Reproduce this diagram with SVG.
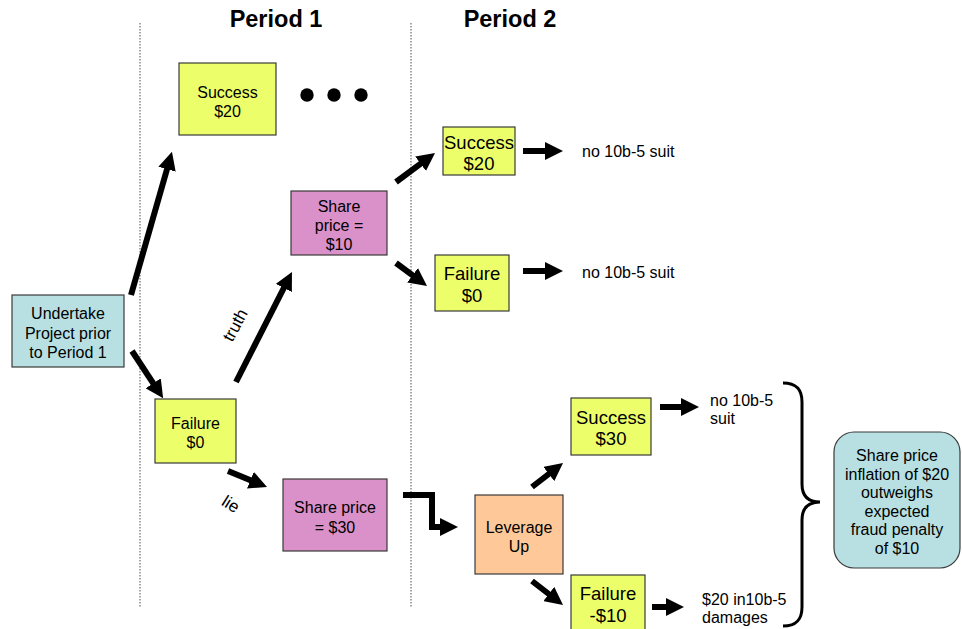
<svg xmlns="http://www.w3.org/2000/svg" width="962" height="629" viewBox="0 0 962 629">
<style>
text{font-family:"Liberation Sans",Arial,sans-serif;fill:#000}
.t{font-size:16px;text-anchor:middle}
.big{font-size:18.5px;text-anchor:middle}
.lbl{font-size:16px}
.rl{font-size:17px;text-anchor:middle}
.title{font-size:23.5px;font-weight:bold;text-anchor:middle}
.box{stroke:#3a3a3a;stroke-width:1.2}
.y{fill:#ECFF6A}
.p{fill:#DA90C8}
.c{fill:#B8E0E2}
.o{fill:#FFC898}
.div{stroke:#8a8a8a;stroke-width:1.5;stroke-dasharray:1.5 1.5;fill:none}
.a{stroke:#000;stroke-width:6;fill:none;marker-end:url(#ah)}
</style>
<defs>
<marker id="ah" markerUnits="userSpaceOnUse" markerWidth="18" markerHeight="18" refX="9" refY="9" orient="auto" viewBox="0 0 18 18">
<path d="M0,0 L18,9 L0,18 Z" fill="#000"/>
</marker>
</defs>
<rect width="962" height="629" fill="#fff"/>
<g id="dividers">
<line class="div" x1="140" y1="23" x2="140" y2="607"/>
<line class="div" x1="411" y1="23" x2="411" y2="607"/>
</g>
<g id="titles">
<text class="title" x="276" y="27">Period 1</text>
<text class="title" x="510" y="27">Period 2</text>
</g>
<g id="connectors">
<line class="a" x1="131" y1="295" x2="169.5" y2="160.5"/>
<line class="a" x1="132" y1="351" x2="158.2" y2="390.8"/>
<line class="a" x1="236" y1="382" x2="287.9" y2="280"/>
<line class="a" x1="228" y1="471" x2="258.7" y2="483.6"/>
<line class="a" x1="396" y1="182" x2="427.8" y2="158.4"/>
<line class="a" x1="523" y1="151" x2="554" y2="151"/>
<line class="a" x1="396" y1="263" x2="419.8" y2="280.6"/>
<line class="a" x1="523" y1="271" x2="554" y2="271"/>
<path class="a" d="M403,495 H432 V527 H449"/>
<line class="a" x1="532" y1="487" x2="555.9" y2="468.5"/>
<line class="a" x1="660" y1="407" x2="690" y2="407"/>
<line class="a" x1="532" y1="581" x2="555.9" y2="599.5"/>
<line class="a" x1="652" y1="607" x2="675" y2="607"/>
</g>
<g id="edge-labels">
<text class="rl" transform="translate(235,325) rotate(-62)" x="0" y="6">truth</text>
<text class="rl" transform="translate(231,504) rotate(32)" x="0" y="6">lie</text>
</g>
<g id="undertake">
<rect class="box c" x="12" y="295" width="112" height="72"/>
<text class="t" x="68" y="318.5">Undertake</text>
<text class="t" x="68" y="338.5">Project prior</text>
<text class="t" x="68" y="357.5">to Period 1</text>
</g>
<g id="p1-success">
<rect class="box y" x="179" y="63" width="97" height="72"/>
<text class="t" x="227.5" y="97.5">Success</text>
<text class="t" x="227.5" y="116.5">$20</text>
</g>
<g id="ellipsis">
<circle cx="307" cy="95" r="6.7"/>
<circle cx="334" cy="95" r="6.7"/>
<circle cx="361" cy="95" r="6.7"/>
</g>
<g id="p1-failure">
<rect class="box y" x="155" y="399" width="81" height="64"/>
<text class="t" x="195.5" y="428.5">Failure</text>
<text class="t" x="195.5" y="447.5">$0</text>
</g>
<g id="share10">
<rect class="box p" x="291" y="191" width="96" height="64"/>
<text class="t" x="339" y="211.5">Share</text>
<text class="t" x="339" y="230.5">price =</text>
<text class="t" x="339" y="249.5">$10</text>
</g>
<g id="share30">
<rect class="box p" x="283" y="479" width="104" height="72"/>
<text class="t" x="335" y="512.5">Share price</text>
<text class="t" x="335" y="532.5">= $30</text>
</g>
<g id="p2-success20">
<rect class="box y" x="443" y="127" width="72" height="48"/>
<text class="big" x="479" y="148.5">Success</text>
<text class="big" x="479" y="169.5">$20</text>
</g>
<g id="p2-failure0">
<rect class="box y" x="435" y="255" width="74" height="56"/>
<text class="big" x="472" y="279.5">Failure</text>
<text class="big" x="472" y="301.5">$0</text>
</g>
<g id="leverage">
<rect class="box o" x="475" y="495" width="88" height="79"/>
<text class="t" x="519" y="533">Leverage</text>
<text class="t" x="519" y="552">Up</text>
</g>
<g id="p2-success30">
<rect class="box y" x="571" y="398" width="80" height="57"/>
<text class="big" x="611" y="423.5">Success</text>
<text class="big" x="611" y="444.5">$30</text>
</g>
<g id="p2-failure10">
<rect class="box y" x="571" y="575" width="74" height="60"/>
<text class="big" x="608" y="599.5">Failure</text>
<text class="big" x="608" y="621.5">-$10</text>
</g>
<g id="outcomes">
<text class="lbl" x="582" y="157">no 10b-5 suit</text>
<text class="lbl" x="582" y="278">no 10b-5 suit</text>
<text class="lbl" x="710" y="406">no 10b-5</text>
<text class="lbl" x="710" y="424">suit</text>
<text class="lbl" x="702" y="605">$20 in10b-5</text>
<text class="lbl" x="702" y="623">damages</text>
</g>
<g id="brace">
<path d="M783,383 C797,383 802,390 802,402 L802,484 C802,496 808,502 820,502 C808,502 802,508 802,520 L802,607 C802,619 797,626 783,626" fill="none" stroke="#000" stroke-width="3"/>
</g>
<g id="conclusion">
<rect class="box c" x="834" y="432" width="126" height="136" rx="20" ry="20"/>
<text class="t" x="897" y="461">Share price</text>
<text class="t" x="897" y="479.5">inflation of $20</text>
<text class="t" x="897" y="498">outweighs</text>
<text class="t" x="897" y="516.5">expected</text>
<text class="t" x="897" y="535">fraud penalty</text>
<text class="t" x="897" y="553.5">of $10</text>
</g>
</svg>
